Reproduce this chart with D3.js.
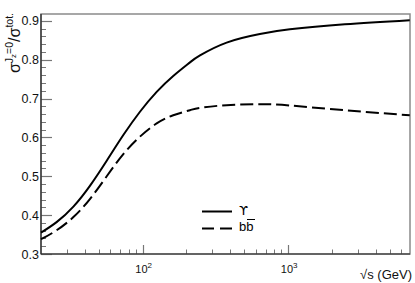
<!DOCTYPE html>
<html><head><meta charset="utf-8">
<script src="https://cdn.jsdelivr.net/npm/d3@7"></script>
<style>
html,body{margin:0;padding:0;background:#fff;}
svg{display:block;font-family:"Liberation Sans",Arimo,Helvetica,Arial,sans-serif;}
</style></head>
<body><svg id="c" width="415" height="283"></svg>
<script>
// Data
const sqrtS = [20, 25.6, 33.4, 43.5, 56.6, 73.6, 95.8, 124.8, 162.2, 211.3, 247.7, 377.6, 639, 1028, 2452, 6855];
const upsilonRatio = [0.355, 0.382, 0.422, 0.476, 0.540, 0.606, 0.666, 0.717, 0.758, 0.793, 0.811, 0.844, 0.866, 0.878, 0.891, 0.9017];
const bbRatio = [0.338, 0.361, 0.395, 0.442, 0.500, 0.557, 0.602, 0.636, 0.657, 0.670, 0.676, 0.683, 0.6855, 0.682, 0.670, 0.657];
const yTicks = [0.3, 0.4, 0.5, 0.6, 0.7, 0.8, 0.9];
const xMajorTicks = [100, 1000];
const xMajorExp = ["2", "3"];
const legendLabels = ["ϒ", "bb"];

const svg = d3.select("#c");
const L = 41, R = 410, T = 14, B = 254;
const x = d3.scaleLog().domain([20, 6880]).range([L, R]);
const y = d3.scaleLinear().domain([0.3, 0.9175]).range([B, T]);

// frame
svg.append("rect").attr("x", L).attr("y", T).attr("width", R - L).attr("height", B - T)
  .attr("fill", "none").attr("stroke", "#8a8a8a").attr("stroke-width", 1.5);

// y ticks
const yMinor = d3.range(0.30, 0.9175, 0.02);
svg.append("g").selectAll("line").data(yMinor).join("line")
  .attr("x1", L).attr("x2", L + 5).attr("y1", d => Math.round(y(d)) + 0.5).attr("y2", d => Math.round(y(d)) + 0.5)
  .attr("stroke", "#777").attr("stroke-width", 1);
svg.append("g").selectAll("line").data(yTicks).join("line")
  .attr("x1", L).attr("x2", L + 11).attr("y1", d => Math.round(y(d)) + 0.5).attr("y2", d => Math.round(y(d)) + 0.5)
  .attr("stroke", "#777").attr("stroke-width", 1.2);
svg.append("g").selectAll("text").data(yTicks).join("text")
  .attr("x", 39).attr("y", d => y(d) + 4.5).attr("text-anchor", "end")
  .attr("font-size", 12.5).attr("fill", "#111").text(d => d.toFixed(1));

// x ticks
const xMinor = [];
[10, 100, 1000].forEach(b => { for (let k = 2; k <= 9; k++) { const v = b * k; if (v > 20 && v < 6880) xMinor.push(v); } });
svg.append("g").selectAll("line").data(xMinor).join("line")
  .attr("x1", d => Math.round(x(d)) + 0.5).attr("x2", d => Math.round(x(d)) + 0.5).attr("y1", B).attr("y2", B - 4.5)
  .attr("stroke", "#777").attr("stroke-width", 1);
svg.append("g").selectAll("line").data(xMajorTicks).join("line")
  .attr("x1", d => Math.round(x(d)) + 0.5).attr("x2", d => Math.round(x(d)) + 0.5).attr("y1", B).attr("y2", B - 9)
  .attr("stroke", "#777").attr("stroke-width", 1.2);
const xl = svg.append("g").selectAll("text").data(xMajorTicks).join("text")
  .attr("x", d => x(d) + 1).attr("y", 273).attr("text-anchor", "middle")
  .attr("font-size", 11).attr("fill", "#111");
xl.append("tspan").text("10");
xl.append("tspan").attr("dy", -5).attr("font-size", 8).text((d, i) => xMajorExp[i]);

// axis lines
svg.append("line").attr("x1", L).attr("x2", L).attr("y1", T).attr("y2", B).attr("stroke", "#222").attr("stroke-width", 1.2);
svg.append("line").attr("x1", L).attr("x2", R).attr("y1", B).attr("y2", B).attr("stroke", "#222").attr("stroke-width", 1.2);

// curves
const line = d3.line().x(d => x(d[0])).y(d => y(d[1])).curve(d3.curveNatural);
svg.append("path").datum(d3.zip(sqrtS, upsilonRatio)).attr("d", line)
  .attr("fill", "none").attr("stroke", "#000").attr("stroke-width", 2);
svg.append("path").datum(d3.zip(sqrtS, bbRatio)).attr("d", line)
  .attr("fill", "none").attr("stroke", "#000").attr("stroke-width", 2).attr("stroke-dasharray", "13,5");

// legend
svg.append("line").attr("x1", 202).attr("x2", 232).attr("y1", 211.5).attr("y2", 211.5).attr("stroke", "#000").attr("stroke-width", 2);
svg.append("line").attr("x1", 202).attr("x2", 232).attr("y1", 228.5).attr("y2", 228.5).attr("stroke", "#000").attr("stroke-width", 2).attr("stroke-dasharray", "12,6");
svg.append("text").attr("x", 239).attr("y", 215).attr("font-size", 13).attr("font-family", "DejaVu Sans").text(legendLabels[0]);
svg.append("text").attr("x", 239).attr("y", 231).attr("font-size", 13).text(legendLabels[1]);
svg.append("line").attr("x1", 247).attr("x2", 255).attr("y1", 219.5).attr("y2", 219.5).attr("stroke", "#000").attr("stroke-width", 1);

// x title
svg.append("text").attr("x", 412).attr("y", 279).attr("text-anchor", "end").attr("font-size", 13).attr("fill", "#111").text("√s (GeV)");

// y title
const yt = svg.append("text").attr("transform", "translate(20,13) rotate(-90)").attr("text-anchor", "end")
  .attr("font-size", 16).attr("fill", "#111");
yt.append("tspan").text("σ");
yt.append("tspan").attr("font-size", 10.5).attr("dy", -7).text("J");
yt.append("tspan").attr("font-size", 8).attr("dy", 3).text("z");
yt.append("tspan").attr("font-size", 10.5).attr("dy", -3).text("=0");
yt.append("tspan").attr("font-size", 16).attr("dy", 7).text("/σ");
yt.append("tspan").attr("font-size", 10.5).attr("dy", -7).text("tot.");
</script></body></html>
